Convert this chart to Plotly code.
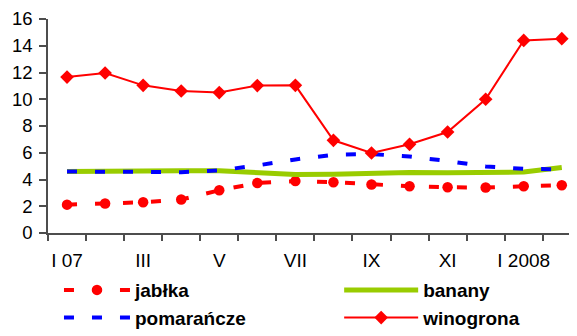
import plotly.graph_objects as go

months = ["I 07", "II 07", "III 07", "IV 07", "V 07", "VI 07", "VII 07", "VIII 07",
          "IX 07", "X 07", "XI 07", "XII 07", "I 2008", "II 2008"]
tick_labels = ["I 07", "", "III", "", "V", "", "VII", "", "IX", "", "XI", "", "I 2008", ""]

jablka = [2.12, 2.2, 2.3, 2.5, 3.19, 3.74, 3.88, 3.8, 3.62, 3.49, 3.42, 3.4, 3.49, 3.57]
pomarancze = [4.6, 4.58, 4.55, 4.55, 4.68, 5.05, 5.5, 5.85, 5.9, 5.72, 5.38, 4.98, 4.8, 4.76]
banany = [4.6, 4.65, 4.65, 4.66, 4.65, 4.5, 4.38, 4.39, 4.46, 4.52, 4.5, 4.5, 4.56, 4.9]
winogrona = [11.66, 11.96, 11.04, 10.62, 10.5, 11.02, 11.04, 6.93, 5.98, 6.63, 7.55, 10.0, 14.4, 14.53]

x = list(range(len(months)))
FONT = "Liberation Sans, Arial, sans-serif"

fig = go.Figure()
fig.add_trace(go.Scatter(
    x=x, y=jablka, name="jabłka", mode="lines+markers", legend="legend", legendrank=1,
    line=dict(color="#FF0000", width=4, dash="10px,18px"),
    marker=dict(symbol="circle", size=10.5, color="#FF0000")))
fig.add_trace(go.Scatter(
    x=x, y=banany, name="banany", mode="lines", legend="legend2", legendrank=1,
    line=dict(color="#99CC00", width=5)))
fig.add_trace(go.Scatter(
    x=x, y=pomarancze, name="pomarańcze", mode="lines", legend="legend", legendrank=2,
    line=dict(color="#0000FF", width=4, dash="10px,18px")))
fig.add_trace(go.Scatter(
    x=x, y=winogrona, name="winogrona", mode="lines+markers", legend="legend2", legendrank=2,
    line=dict(color="#FF0000", width=2),
    marker=dict(symbol="diamond", size=10.5, color="#FF0000")))

legend_common = dict(
    orientation="v", xref="container", xanchor="left",
    yref="container", y=0.198, yanchor="top",
    font=dict(family=FONT, size=19, color="black", weight="bold"),
    tracegroupgap=0, bgcolor="rgba(0,0,0,0)",
)

fig.update_layout(
    width=569, height=328,
    margin=dict(l=40, r=0, t=10.5, b=103.3, autoexpand=False),
    plot_bgcolor="white", paper_bgcolor="white",
    font=dict(family=FONT, size=19, color="black"),
    showlegend=True,
    legend=dict(x=0.0896, itemwidth=66, **legend_common),
    legend2=dict(x=0.582, itemwidth=74, **legend_common),
    xaxis=dict(
        range=[-0.5, 13.4], showgrid=False, zeroline=False,
        showline=True, linecolor="#4d4d4d", linewidth=1.5,
        tickmode="array", tickvals=x, ticktext=tick_labels,
        ticks="", ticklen=0, ticklabelstandoff=9,
        minor=dict(tickmode="array", tickvals=[i - 0.5 for i in x],
                   ticks="outside", ticklen=6, tickcolor="#4d4d4d", tickwidth=1.5),
        tickfont=dict(size=19),
    ),
    yaxis=dict(
        range=[0, 16], dtick=2, showgrid=False, zeroline=False,
        showline=True, linecolor="#4d4d4d", linewidth=1.5,
        ticks="outside", ticklen=7, tickcolor="#4d4d4d", tickwidth=1.5,
        ticklabelstandoff=3,
        tickfont=dict(size=18.5),
    ),
)

fig.write_html("out.html")
